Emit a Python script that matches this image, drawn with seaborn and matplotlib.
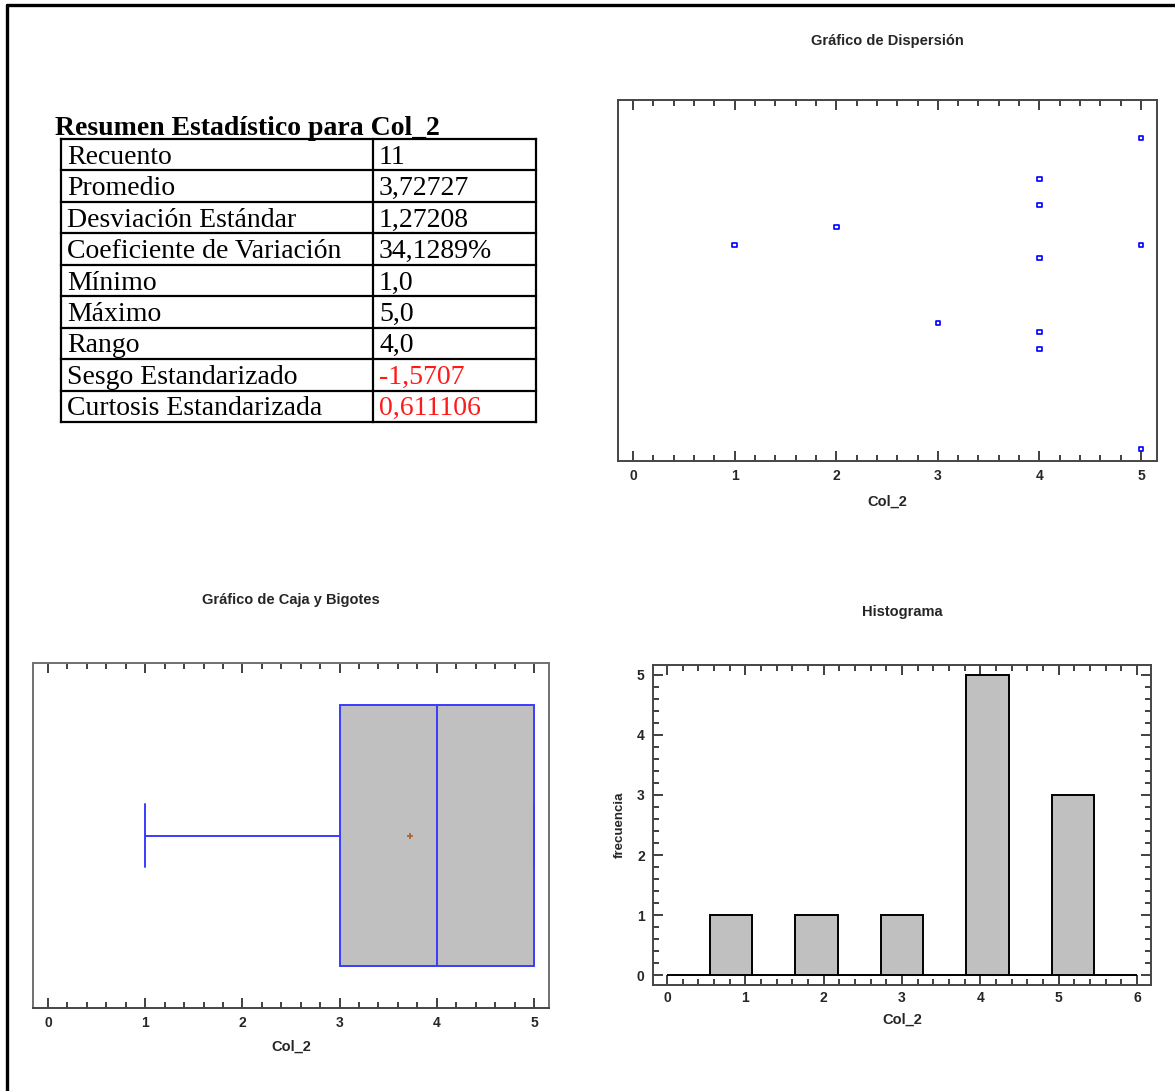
import numpy as np
import matplotlib
matplotlib.use("Agg")
import matplotlib.pyplot as plt
from matplotlib.ticker import MultipleLocator
from matplotlib.lines import Line2D
import seaborn as sns

# ---- data -------------------------------------------------------------
col2 = [5, 4, 4, 2, 1, 5, 4, 3, 4, 4, 5]
# vertical jitter used by the scatter panel (one per observation, same order)
jitter = [0.895, 0.781, 0.709, 0.648, 0.598, 0.598, 0.562, 0.382, 0.357, 0.310, 0.033]

stat_names = ["Recuento", "Promedio", "Desviación Estándar", "Coeficiente de Variación",
              "Mínimo", "Máximo", "Rango", "Sesgo Estandarizado", "Curtosis Estandarizada"]
stat_values = ["11", "3,72727", "1,27208", "34,1289%", "1,0", "5,0", "4,0",
               "-1,5707", "0,611106"]
stat_colors = ["black"] * 7 + ["#ff1a1a", "#ff1a1a"]

hist_bins = np.linspace(0, 6, 12)   # 11 classes between 0 and 6

# ---- style ------------------------------------------------------------
sns.set_theme(style="white")
plt.rcParams["font.family"] = ["Liberation Sans", "DejaVu Sans"]
SANS = ["Liberation Sans", "DejaVu Sans"]
SERIF = ["Liberation Serif", "DejaVu Serif"]

TITLE_FS = 10.5
TICK_FS = 10
LABEL_FS = 10.5
TABLE_FS = 20

W, H = 1175, 1091
fig = plt.figure(figsize=(W / 100, H / 100), dpi=100)
fig.patch.set_facecolor("white")


def px_axes(left, top, right, bottom):
    return fig.add_axes([left / W, 1 - bottom / H, (right - left) / W, (bottom - top) / H])


def style_frame(ax):
    for s in ax.spines.values():
        s.set_visible(True)
        s.set_color("#454545")
        s.set_linewidth(1.4)
    ax.set_facecolor("white")
    ax.grid(False)


def x_ticks(ax, pad=7):
    ax.xaxis.set_major_locator(MultipleLocator(1))
    ax.xaxis.set_minor_locator(MultipleLocator(0.2))
    ax.tick_params(axis="x", which="both", direction="in", top=True, bottom=True,
                   color="#202020", width=1.2, labelsize=TICK_FS, pad=pad)
    ax.tick_params(axis="x", which="major", length=7)
    ax.tick_params(axis="x", which="minor", length=4)
    for t in ax.get_xticklabels():
        t.set_fontweight("bold")


# ---- outer frame ------------------------------------------------------
fig.add_artist(Line2D([7 / W, 1.0], [1 - 5 / H, 1 - 5 / H], color="black", lw=2.4,
                      transform=fig.transFigure))
fig.add_artist(Line2D([7 / W, 7 / W], [1 - 5 / H, 0], color="black", lw=2.4,
                      transform=fig.transFigure))

# ---- summary table ----------------------------------------------------
tax = px_axes(40, 100, 560, 440)
tax.set_xlim(40, 560)
tax.set_ylim(440, 100)
tax.axis("off")
tleft, tmid, tright = 61, 373, 536
row_edges = np.linspace(139, 422, len(stat_names) + 1)
lw_tab = 1.6
for i, (name, val, colr) in enumerate(zip(stat_names, stat_values, stat_colors)):
    yc = (row_edges[i] + row_edges[i + 1]) / 2 + 2.5
    tax.text(tleft + 6, yc, name, fontsize=TABLE_FS, family=SERIF, va="center", ha="left",
             color="black")
    tax.text(tmid + 6, yc, val, fontsize=TABLE_FS, family=SERIF, va="center", ha="left",
             color=colr)
tax.text(55, 135, "Resumen Estadístico para Col_2", fontsize=TABLE_FS, family=SERIF,
         fontweight="bold", va="baseline", ha="left", color="black")
for yv in row_edges:
    tax.plot([tleft, tright], [yv, yv], color="black", lw=lw_tab, solid_capstyle="projecting")
for xv in (tleft, tmid, tright):
    tax.plot([xv, xv], [row_edges[0], row_edges[-1]], color="black", lw=lw_tab,
             solid_capstyle="projecting")

# ---- scatter panel ----------------------------------------------------
ax1 = px_axes(618, 100, 1157, 461)
sns.scatterplot(x=col2, y=jitter, ax=ax1, marker="s", s=11, color="blue",
                facecolor="none", edgecolor="blue", linewidth=1.2)
ax1.set_xlim(-0.148, 5.157)
ax1.set_ylim(0, 1)
ax1.set_yticks([])
style_frame(ax1)
x_ticks(ax1, pad=6)
ax1.set_xlabel("Col_2", fontsize=LABEL_FS, fontweight="bold", labelpad=8.5)
fig.text(887 / W, 1 - 41 / H, "Gráfico de Dispersión", ha="center", va="center",
         fontsize=TITLE_FS, fontweight="bold")

# ---- box-and-whisker panel -------------------------------------------
ax2 = px_axes(33, 663, 549, 1008)
vals = np.asarray(col2, dtype=float)
q1, med, q3 = np.percentile(vals, [25, 50, 75], method="weibull")
box_stats = [dict(med=med, q1=q1, q3=q3, whislo=vals.min(), whishi=vals.max(),
                  mean=vals.mean(), fliers=[])]
blue = "#3b3bff"
ax2.bxp(box_stats, positions=[0], widths=0.754, capwidths=0.185,
        orientation="horizontal", patch_artist=True, showmeans=True,
        boxprops=dict(facecolor="#c0c0c0", edgecolor=blue, linewidth=1.4),
        medianprops=dict(color=blue, linewidth=1.4),
        whiskerprops=dict(color=blue, linewidth=1.4),
        capprops=dict(color=blue, linewidth=1.4),
        meanprops=dict(marker="+", markeredgecolor="#b0602a", markersize=4,
                       markeredgewidth=1.2),
        manage_ticks=False)
ax2.set_xlim(-0.154, 5.154)
ax2.set_ylim(-0.5, 0.5)
ax2.set_yticks([])
style_frame(ax2)
for s in ("left", "right", "top"):
    ax2.spines[s].set_color("#707070")
x_ticks(ax2, pad=5.5)
ax2.set_xlabel("Col_2", fontsize=LABEL_FS, fontweight="bold", labelpad=7)
fig.text(291 / W, 1 - 600 / H, "Gráfico de Caja y Bigotes", ha="center", va="center",
         fontsize=TITLE_FS, fontweight="bold")

# ---- histogram panel --------------------------------------------------
ax3 = px_axes(653, 665, 1151, 985)
sns.histplot(x=col2, bins=hist_bins, ax=ax3, color="#c0c0c0", edgecolor="black",
             linewidth=1.4, alpha=1.0)
ax3.set_xlim(-0.179, 6.179)
ax3.set_ylim(-0.166, 5.166)
style_frame(ax3)
x_ticks(ax3, pad=4.5)
ax3.yaxis.set_major_locator(MultipleLocator(1))
ax3.yaxis.set_minor_locator(MultipleLocator(0.2))
ax3.tick_params(axis="y", which="both", direction="in", left=True, right=True,
                color="#202020", width=1.2, labelsize=TICK_FS, pad=6)
ax3.tick_params(axis="y", which="major", length=7)
ax3.tick_params(axis="y", which="minor", length=4)
for t in ax3.get_yticklabels():
    t.set_fontweight("bold")
ax3.set_xlabel("Col_2", fontsize=LABEL_FS, fontweight="bold", labelpad=5.5)
ax3.set_ylabel("frecuencia", fontsize=9.5, fontweight="bold", labelpad=8)
fig.text(902 / W, 1 - 612 / H, "Histograma", ha="center", va="center",
         fontsize=TITLE_FS, fontweight="bold")

fig.savefig("out.png", dpi=100, facecolor="white")
